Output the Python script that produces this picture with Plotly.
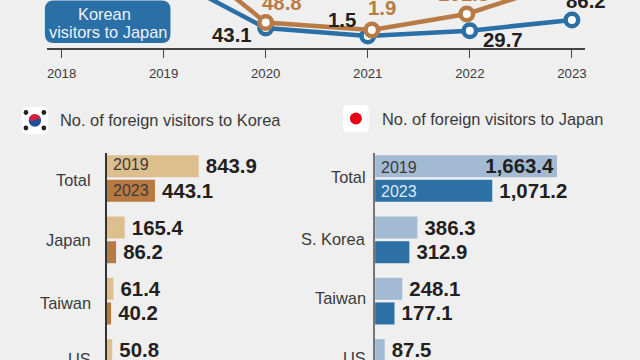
import plotly.graph_objects as go

W, H = 640, 360
BG = "#EFEFEF"
BLUE = "#2A6FA5"
ORANGE = "#B87B45"
INK = "#231F20"
GREY = "#3A3A3A"
FONT = "Liberation Sans"

years = [2018, 2019, 2020, 2021, 2022, 2023]
orange_years = [2018, 2019, 2020, 2021.04, 2021.97, 2023]
korea_visitors = [295, 327, 43.1, 1.5, 29.7, 86.2]
japan_visitors = [754, 558, 48.8, 1.9, 101.3, 312.9]
year_labels = ["2018", "2019", "2020", "2021", "2022", "2023"]

cats_left = ["Total", "Japan", "Taiwan", "US"]
left_2019 = [843.9, 165.4, 61.4, 50.8]
left_2023 = [443.1, 86.2, 40.2, None]
cats_right = ["Total", "S. Korea", "Taiwan", "US"]
right_2019 = [1663.4, 386.3, 248.1, 87.5]
right_2023 = [1071.2, 312.9, 177.1, None]
right_2019_text = ["1,663.4", "386.3", "248.1", "87.5"]
right_2023_text = ["1,071.2", "312.9", "177.1", ""]

GAP = "\u2009"


def px(x):
    return x / W


def py(y):
    return 1 - y / H


def fmt(vals):
    return ["" if v is None else GAP + f"{v:.1f}" for v in vals]


def line_trace(x, y, color, yaxis):
    return go.Scatter(
        x=x, y=y, yaxis=yaxis, xaxis="x", mode="lines+markers",
        line=dict(color=color, width=4.5),
        marker=dict(size=12.5, color="#FFFDF9", line=dict(color=color, width=4.5)),
        showlegend=False, hoverinfo="skip",
    )


def bar_trace(cats, vals, color, texts, positions, xa, ya):
    return go.Bar(
        y=cats, x=vals, orientation="h", xaxis=xa, yaxis=ya,
        marker=dict(color=color, line=dict(width=0)),
        text=texts, textposition=positions, cliponaxis=False,
        insidetextanchor="end", constraintext="none", textangle=0,
        textfont=dict(family=FONT, size=20.4, color=INK, weight="bold"),
        showlegend=False, hoverinfo="skip",
    )


fig = go.Figure()
fig.add_trace(line_trace(years, korea_visitors, BLUE, "y"))
fig.add_trace(line_trace(orange_years, japan_visitors, ORANGE, "y2"))

fig.add_trace(bar_trace(cats_left, left_2019, "#DDBE8D", fmt(left_2019), "outside", "x2", "y3"))
fig.add_trace(bar_trace(cats_left, left_2023, "#B97A42", fmt(left_2023), "outside", "x2", "y3"))
fig.add_trace(bar_trace(cats_right, right_2019, "#A3BAD3",
                        [right_2019_text[0]] + [GAP + t for t in right_2019_text[1:]],
                        ["inside", "outside", "outside", "outside"], "x3", "y4"))
fig.add_trace(bar_trace(cats_right, right_2023, "#2C70A6",
                        [GAP + t if t else "" for t in right_2023_text], "outside", "x3", "y4"))

ann = []


def label(x, y, text, size=16.4, color=GREY, bold=False, anchor="center"):
    ann.append(dict(
        xref="paper", yref="paper", x=px(x), y=py(y), text=text, showarrow=False,
        xanchor=anchor, yanchor="middle",
        font=dict(family=FONT, size=size, color=color, weight="bold" if bold else "normal"),
        borderpad=0, borderwidth=0,
    ))


# line-chart value labels
label(233, 35, "43.1", 20.4, INK, True)
label(343, 20, "1.5", 20.4, INK, True)
label(505, 40, "29.7", 20.4, INK, True)
label(588, 1, "86.2", 20.4, INK, True)
label(283, 3, "48.8", 20.4, ORANGE, True)
label(383, 8, "1.9", 20.4, ORANGE, True)
label(465, -6, "101.3", 20.4, ORANGE, True)

# call-out
label(105, 14, "Korean", 16.4, "#EAF3F8")
label(108, 32, "visitors to Japan", 16.4, "#EAF3F8")

# headers
label(60, 120, "No. of foreign visitors to Korea", 16.4, GREY, anchor="left")
label(383, 119, "No. of foreign visitors to Japan", 16.4, GREY, anchor="left")

# category labels
for c, y in zip(cats_left, [180, 240, 303, 359]):
    label(91, y, c, 16.4, GREY, anchor="right")
for c, y in zip(cats_right, [177, 239, 298, 358]):
    label(367, y, c, 16.4, GREY, anchor="right")

# year tags within the bars
label(113, 165, "2019", 16, GREY, anchor="left")
label(113, 190, "2023", 16, GREY, anchor="left")
label(382, 167, "2019", 16, GREY, anchor="left")
label(382, 191, "2023", 16, "#DCEBF4", anchor="left")


def rrect(x0, y0, x1, y1, r):
    a, b, c, d = px(x0), py(y0), px(x1), py(y1)
    rx, ry = r / W, r / H
    return (f"M {a+rx} {b} L {c-rx} {b} Q {c} {b} {c} {b-ry} L {c} {d+ry} "
            f"Q {c} {d} {c-rx} {d} L {a+rx} {d} Q {a} {d} {a} {d+ry} L {a} {b-ry} Q {a} {b} {a+rx} {b} Z")


def disc(cx, cy, r, color):
    return dict(type="circle", xref="paper", yref="paper", x0=px(cx - r), x1=px(cx + r),
                y0=py(cy + r), y1=py(cy - r), fillcolor=color, line=dict(width=0), layer="above")


shapes = [
    dict(type="path", xref="paper", yref="paper", path=rrect(45, 0.5, 171, 43, 9),
         fillcolor=BLUE, line=dict(width=0), layer="below"),
    dict(type="path", xref="paper", yref="paper", path=rrect(22, 107, 48, 134, 5),
         fillcolor="#FFFFFF", line=dict(width=0), layer="above"),
    dict(type="path", xref="paper", yref="paper", path=rrect(344, 105, 370, 132, 5),
         fillcolor="#FFFFFF", line=dict(width=0), layer="above"),
    disc(357, 118.5, 6, "#E60012"),
    disc(35, 120.5, 6.2, "#1F4E9C"),
    dict(type="path", xref="paper", yref="paper", layer="above", line=dict(width=0), fillcolor="#D6203A",
         path=f"M {px(29)} {py(120)} Q {px(30)} {py(114)} {px(35)} {py(114.3)} "
              f"Q {px(40)} {py(114.5)} {px(41)} {py(120)} Q {px(38)} {py(118)} {px(35)} {py(120)} "
              f"Q {px(32)} {py(122)} {px(29)} {py(120)} Z"),
]
for cx, cy in [(26, 112.5), (44, 112.5), (26, 128), (44, 128)]:
    shapes.append(disc(cx, cy, 2.4, "#222222"))

SCALE_L = 213 / 0.1094
SCALE_R = 263.7 / 0.1097
cat_range = [2.96, -0.416]

fig.update_layout(
    width=W, height=H, autosize=False,
    margin=dict(l=0, r=0, t=0, b=0, pad=0),
    paper_bgcolor=BG, plot_bgcolor="rgba(0,0,0,0)",
    barmode="group", bargap=0.197, bargroupgap=0.106,
    font=dict(family=FONT, color=GREY),
    annotations=ann, shapes=shapes,
    xaxis=dict(
        domain=[px(47), px(586.7)], range=[2017.856, 2023.127],
        tickmode="array", tickvals=years, ticktext=year_labels,
        ticks="outside", ticklen=8, tickwidth=1, tickcolor="#444444",
        ticklabelstandoff=4,
        tickfont=dict(family=FONT, size=13.2, color=GREY),
        showline=True, linecolor="#444444", linewidth=1.5,
        showgrid=False, zeroline=False, anchor="y",
    ),
    yaxis=dict(domain=[py(48), 1], range=[-61.6, 191], visible=False, showgrid=False, zeroline=False),
    yaxis2=dict(domain=[py(48), 1], range=[-110, 188.2], overlaying="y", visible=False,
                showgrid=False, zeroline=False),
    xaxis2=dict(domain=[px(107), px(320)], range=[0, SCALE_L], visible=False, anchor="y3"),
    yaxis3=dict(domain=[0, py(153)], range=cat_range, type="category", categoryorder="array",
                categoryarray=cats_left, showticklabels=False, ticks="", showgrid=False,
                zeroline=False, showline=True, linecolor="#333333", linewidth=1.5, anchor="x2"),
    xaxis3=dict(domain=[px(376.3), 1], range=[0, SCALE_R], visible=False, anchor="y4"),
    yaxis4=dict(domain=[0, py(153)], range=cat_range, type="category", categoryorder="array",
                categoryarray=cats_right, showticklabels=False, ticks="", showgrid=False,
                zeroline=False, showline=True, linecolor="#777777", linewidth=1.5, anchor="x3"),
)

# the browser's default page margin would otherwise push the chart 8 px in
fig.write_html(
    "out.html",
    config={"displayModeBar": False},
    post_script="document.body.style.margin='0';document.body.style.overflow='hidden';"
                "document.body.style.background='" + BG + "';",
)
